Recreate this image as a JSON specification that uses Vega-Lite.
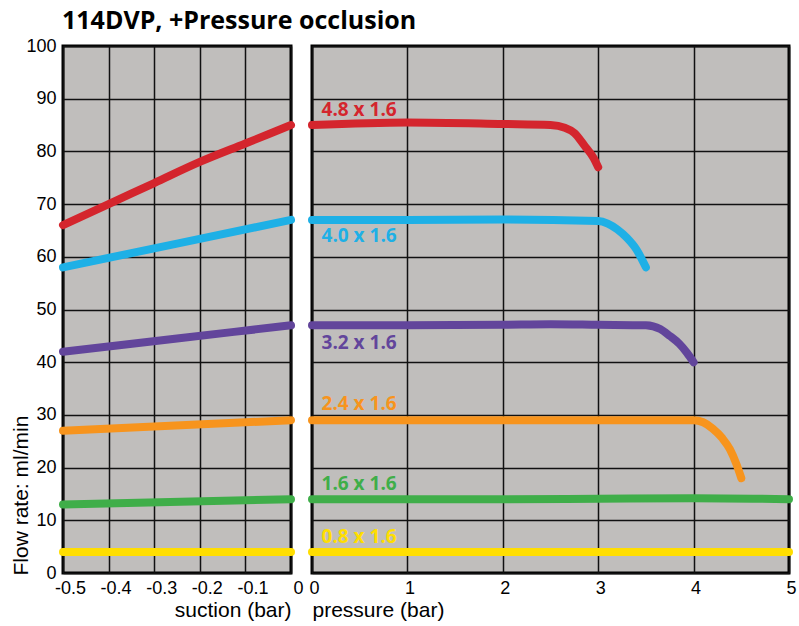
{
  "$schema": "https://vega.github.io/schema/vega-lite/v6.json",
  "padding": {"left": 8, "top": 8, "right": 5, "bottom": 5},
  "background": "white",
  "bounds": "flush",
  "spacing": 21,
  "title": {"text": "114DVP, +Pressure occlusion", "anchor": "start", "frame": "group", "font": "Open Sans", "fontSize": 25, "fontWeight": "bold", "color": "black", "offset": 2, "dx": -1},
  "config": {
    "view": {"fill": "#c0bebc", "stroke": "black", "strokeWidth": 3},
    "axis": {
      "domain": false, "ticks": false, "grid": true, "gridColor": "#111111", "gridWidth": 1.5, "gridOpacity": 1,
      "labelOverlap": false, "labelFlush": false, "labelBound": false,
      "labelFont": "Liberation Sans Narrow, Liberation Sans, Arial Narrow, sans-serif", "labelFontSize": 18, "labelColor": "black",
      "titleFont": "Liberation Sans, Arial, sans-serif", "titleFontSize": 21, "titleFontWeight": "normal", "titleColor": "black"
    }
  },
  "datasets": {
    "lines": [
      {"panel": "suction", "series": "4.8 x 1.6", "x": -0.5, "y": 66},
      {"panel": "suction", "series": "4.8 x 1.6", "x": -0.4, "y": 70},
      {"panel": "suction", "series": "4.8 x 1.6", "x": -0.3, "y": 74},
      {"panel": "suction", "series": "4.8 x 1.6", "x": -0.2, "y": 78},
      {"panel": "suction", "series": "4.8 x 1.6", "x": -0.1, "y": 81.5},
      {"panel": "suction", "series": "4.8 x 1.6", "x": 0, "y": 85},
      {"panel": "suction", "series": "4.0 x 1.6", "x": -0.5, "y": 58},
      {"panel": "suction", "series": "4.0 x 1.6", "x": -0.25, "y": 62.5},
      {"panel": "suction", "series": "4.0 x 1.6", "x": 0, "y": 67},
      {"panel": "suction", "series": "3.2 x 1.6", "x": -0.5, "y": 42},
      {"panel": "suction", "series": "3.2 x 1.6", "x": -0.25, "y": 44.5},
      {"panel": "suction", "series": "3.2 x 1.6", "x": 0, "y": 47},
      {"panel": "suction", "series": "2.4 x 1.6", "x": -0.5, "y": 27},
      {"panel": "suction", "series": "2.4 x 1.6", "x": 0, "y": 29},
      {"panel": "suction", "series": "1.6 x 1.6", "x": -0.5, "y": 13},
      {"panel": "suction", "series": "1.6 x 1.6", "x": 0, "y": 14},
      {"panel": "suction", "series": "0.8 x 1.6", "x": -0.5, "y": 4},
      {"panel": "suction", "series": "0.8 x 1.6", "x": 0, "y": 4},

      {"panel": "pressure", "series": "4.8 x 1.6", "x": 0, "y": 85},
      {"panel": "pressure", "series": "4.8 x 1.6", "x": 1, "y": 85.5},
      {"panel": "pressure", "series": "4.8 x 1.6", "x": 2, "y": 85.2},
      {"panel": "pressure", "series": "4.8 x 1.6", "x": 2.5, "y": 85},
      {"panel": "pressure", "series": "4.8 x 1.6", "x": 2.65, "y": 84.5},
      {"panel": "pressure", "series": "4.8 x 1.6", "x": 2.75, "y": 83.5},
      {"panel": "pressure", "series": "4.8 x 1.6", "x": 2.86, "y": 81},
      {"panel": "pressure", "series": "4.8 x 1.6", "x": 2.95, "y": 78.8},
      {"panel": "pressure", "series": "4.8 x 1.6", "x": 3, "y": 77},
      {"panel": "pressure", "series": "4.0 x 1.6", "x": 0, "y": 67},
      {"panel": "pressure", "series": "4.0 x 1.6", "x": 1, "y": 67},
      {"panel": "pressure", "series": "4.0 x 1.6", "x": 2, "y": 67.1},
      {"panel": "pressure", "series": "4.0 x 1.6", "x": 3, "y": 66.8},
      {"panel": "pressure", "series": "4.0 x 1.6", "x": 3.1, "y": 66.3},
      {"panel": "pressure", "series": "4.0 x 1.6", "x": 3.2, "y": 65.2},
      {"panel": "pressure", "series": "4.0 x 1.6", "x": 3.3, "y": 63.6},
      {"panel": "pressure", "series": "4.0 x 1.6", "x": 3.4, "y": 61.4},
      {"panel": "pressure", "series": "4.0 x 1.6", "x": 3.5, "y": 58},
      {"panel": "pressure", "series": "3.2 x 1.6", "x": 0, "y": 47},
      {"panel": "pressure", "series": "3.2 x 1.6", "x": 1, "y": 47},
      {"panel": "pressure", "series": "3.2 x 1.6", "x": 2, "y": 47.1},
      {"panel": "pressure", "series": "3.2 x 1.6", "x": 2.5, "y": 47.2},
      {"panel": "pressure", "series": "3.2 x 1.6", "x": 3, "y": 47.1},
      {"panel": "pressure", "series": "3.2 x 1.6", "x": 3.5, "y": 47},
      {"panel": "pressure", "series": "3.2 x 1.6", "x": 3.65, "y": 46.3},
      {"panel": "pressure", "series": "3.2 x 1.6", "x": 3.75, "y": 45},
      {"panel": "pressure", "series": "3.2 x 1.6", "x": 3.85, "y": 43.5},
      {"panel": "pressure", "series": "3.2 x 1.6", "x": 3.93, "y": 41.8},
      {"panel": "pressure", "series": "3.2 x 1.6", "x": 4, "y": 40},
      {"panel": "pressure", "series": "2.4 x 1.6", "x": 0, "y": 29},
      {"panel": "pressure", "series": "2.4 x 1.6", "x": 1, "y": 29},
      {"panel": "pressure", "series": "2.4 x 1.6", "x": 2, "y": 29},
      {"panel": "pressure", "series": "2.4 x 1.6", "x": 3, "y": 29},
      {"panel": "pressure", "series": "2.4 x 1.6", "x": 4, "y": 29},
      {"panel": "pressure", "series": "2.4 x 1.6", "x": 4.1, "y": 28.6},
      {"panel": "pressure", "series": "2.4 x 1.6", "x": 4.2, "y": 27.4},
      {"panel": "pressure", "series": "2.4 x 1.6", "x": 4.3, "y": 25.6},
      {"panel": "pressure", "series": "2.4 x 1.6", "x": 4.38, "y": 23.5},
      {"panel": "pressure", "series": "2.4 x 1.6", "x": 4.45, "y": 20.6},
      {"panel": "pressure", "series": "2.4 x 1.6", "x": 4.5, "y": 18},
      {"panel": "pressure", "series": "1.6 x 1.6", "x": 0, "y": 14},
      {"panel": "pressure", "series": "1.6 x 1.6", "x": 2, "y": 14},
      {"panel": "pressure", "series": "1.6 x 1.6", "x": 3, "y": 14.1},
      {"panel": "pressure", "series": "1.6 x 1.6", "x": 4, "y": 14.2},
      {"panel": "pressure", "series": "1.6 x 1.6", "x": 5, "y": 14},
      {"panel": "pressure", "series": "0.8 x 1.6", "x": 0, "y": 4},
      {"panel": "pressure", "series": "0.8 x 1.6", "x": 5, "y": 4}
    ],
    "labels": [
      {"series": "4.8 x 1.6", "x": 0.1, "y": 87.9},
      {"series": "4.0 x 1.6", "x": 0.1, "y": 64},
      {"series": "3.2 x 1.6", "x": 0.1, "y": 43.6},
      {"series": "2.4 x 1.6", "x": 0.1, "y": 32},
      {"series": "1.6 x 1.6", "x": 0.1, "y": 16.8},
      {"series": "0.8 x 1.6", "x": 0.1, "y": 6.8}
    ]
  },
  "hconcat": [
    {
      "width": 228,
      "height": 527,
      "data": {"name": "lines"},
      "transform": [{"filter": "datum.panel === 'suction'"}],
      "mark": {"type": "line", "strokeWidth": 8, "strokeCap": "round", "strokeJoin": "round", "interpolate": "monotone"},
      "encoding": {
        "x": {"field": "x", "type": "quantitative",
          "scale": {"domain": [-0.5, 0], "nice": false, "zero": false},
          "axis": {"values": [-0.5, -0.4, -0.3, -0.2, -0.1, 0], "labelExpr": "datum.value == 0 ? '0' : replace(format(datum.value, '.1f'), '\u2212', '-')", "labelPadding": 6, "labelOffset": 7, "title": "suction (bar)", "titleAnchor": "end", "titlePadding": 2}},
        "y": {"field": "y", "type": "quantitative",
          "scale": {"domain": [0, 100], "nice": false},
          "axis": {"values": [0, 10, 20, 30, 40, 50, 60, 70, 80, 90, 100], "labelPadding": 7, "title": "Flow rate: ml/min", "titleX": -42, "titleY": 529, "titleAngle": -90, "titleAlign": "left", "titleBaseline": "middle"}},
        "color": {"field": "series", "type": "nominal",
          "scale": {"domain": ["4.8 x 1.6", "4.0 x 1.6", "3.2 x 1.6", "2.4 x 1.6", "1.6 x 1.6", "0.8 x 1.6"], "range": ["#d4252d", "#1eb0e6", "#62459b", "#f7941d", "#3fae49", "#ffde00"]},
          "legend": null}
      }
    },
    {
      "width": 477,
      "height": 527,
      "layer": [
        {
          "data": {"name": "lines"},
          "transform": [{"filter": "datum.panel === 'pressure'"}],
          "mark": {"type": "line", "strokeWidth": 8, "strokeCap": "round", "strokeJoin": "round", "interpolate": "monotone"},
          "encoding": {
            "x": {"field": "x", "type": "quantitative",
              "scale": {"domain": [0, 5], "nice": false},
              "axis": {"values": [0, 1, 2, 3, 4, 5], "format": "d", "labelPadding": 6, "labelOffset": 2, "title": "pressure (bar)", "titleAnchor": "start", "titlePadding": 2}},
            "y": {"field": "y", "type": "quantitative",
              "scale": {"domain": [0, 100], "nice": false},
              "axis": {"values": [0, 10, 20, 30, 40, 50, 60, 70, 80, 90, 100], "labels": false, "title": null}},
            "color": {"field": "series", "type": "nominal",
              "scale": {"domain": ["4.8 x 1.6", "4.0 x 1.6", "3.2 x 1.6", "2.4 x 1.6", "1.6 x 1.6", "0.8 x 1.6"], "range": ["#d4252d", "#1eb0e6", "#62459b", "#f7941d", "#3fae49", "#ffde00"]},
              "legend": null}
          }
        },
        {
          "data": {"name": "labels"},
          "mark": {"type": "text", "align": "left", "baseline": "middle", "font": "Open Sans", "fontSize": 19, "fontWeight": "bold"},
          "encoding": {
            "x": {"field": "x", "type": "quantitative"},
            "y": {"field": "y", "type": "quantitative"},
            "text": {"field": "series"},
            "color": {"field": "series", "type": "nominal", "legend": null}
          }
        }
      ]
    }
  ]
}
